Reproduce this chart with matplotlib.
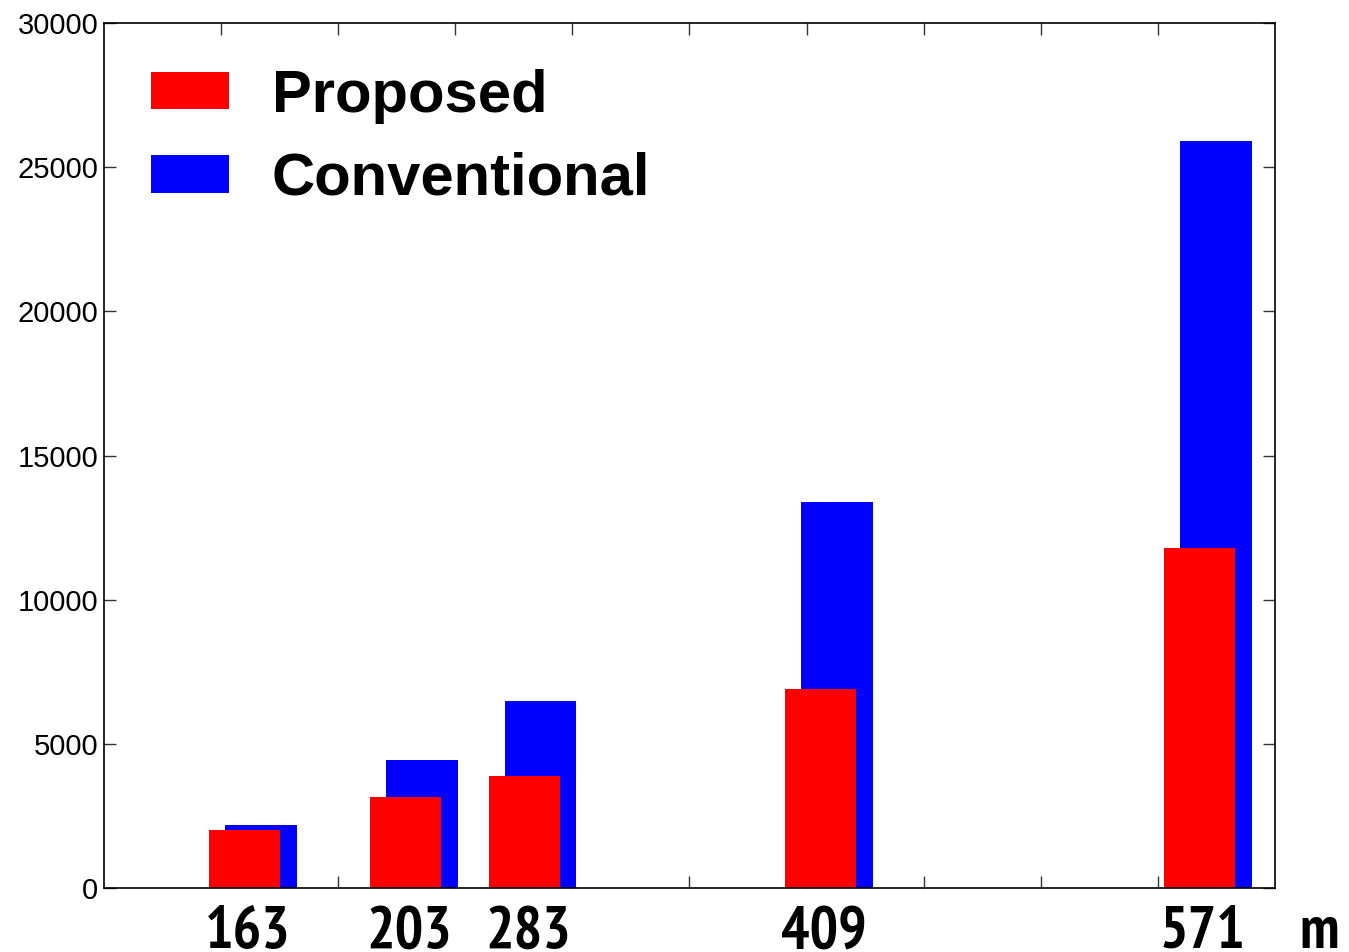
import matplotlib
matplotlib.use("Agg")
import matplotlib.pyplot as plt
from matplotlib import font_manager
import numpy as np

# data
sizes = ["163", "203", "283", "409", "571"]
positions = [1.20, 2.575, 3.59, 6.12, 9.355]   # red bar centres (axis units)
proposed = [2000, 3150, 3900, 6900, 11800]
conventional = [2200, 4450, 6500, 13400, 25900]

bar_w = 0.61
offset = 0.14

plt.rcParams['font.family'] = ['Liberation Sans', 'DejaVu Sans']


def find_narrow_bold():
    # prefer a Helvetica-Narrow-like face, fall back to any condensed bold
    bolds = [f for f in font_manager.fontManager.ttflist if f.weight in ('bold', 700)]
    for key in ('Narrow', 'Condensed'):
        for f in bolds:
            if key.lower() in (f.name + ' ' + f.fname).lower() and 'oblique' not in f.fname.lower() \
                    and 'italic' not in f.fname.lower():
                return f
    return None


narrow = find_narrow_bold()

fig = plt.figure(figsize=(13.49, 9.52), dpi=100)
ax = fig.add_axes([0.0771, 0.0672, 0.868, 0.9086])

pos = np.array(positions)
ax.bar(pos + offset, conventional, width=bar_w, color='#0000ff', label='Conventional', zorder=2)
ax.bar(pos, proposed, width=bar_w, color='#ff0000', label='Proposed', zorder=3)

ax.set_xlim(0, 10)
ax.set_ylim(0, 30000)
ax.set_xticks(range(1, 10))
ax.set_xticklabels([])
ax.set_yticks(range(0, 30001, 5000))
ax.tick_params(axis='both', direction='in', length=8.5, width=1, color='#333333',
               top=True, right=True, labelsize=21, pad=4)
for sp in ax.spines.values():
    sp.set_linewidth(1.2)
    sp.set_zorder(5)

if narrow is not None:
    lab_font = dict(fontproperties=font_manager.FontProperties(fname=narrow.fname, size=43))
else:
    lab_font = dict(fontsize=34, fontweight='bold')

# category labels below the axis
trans = ax.get_xaxis_transform()
for x, s in zip(pos, sizes):
    ax.text(x + 0.03, -0.069, s, transform=trans, ha='center', va='baseline',
            clip_on=False, **lab_font)
ax.text(10.38, -0.069, 'm', transform=trans, ha='center', va='baseline',
        clip_on=False, **lab_font)

handles, labels = ax.get_legend_handles_labels()
leg = ax.legend(handles[::-1], labels[::-1], loc='upper left',
                bbox_to_anchor=(0.02, 0.975), frameon=False,
                prop={'size': 43, 'weight': 'bold'},
                handlelength=1.3, handleheight=0.6, handletextpad=0.72,
                labelspacing=0.47, borderaxespad=0)

fig.savefig('out.png', dpi=100)
